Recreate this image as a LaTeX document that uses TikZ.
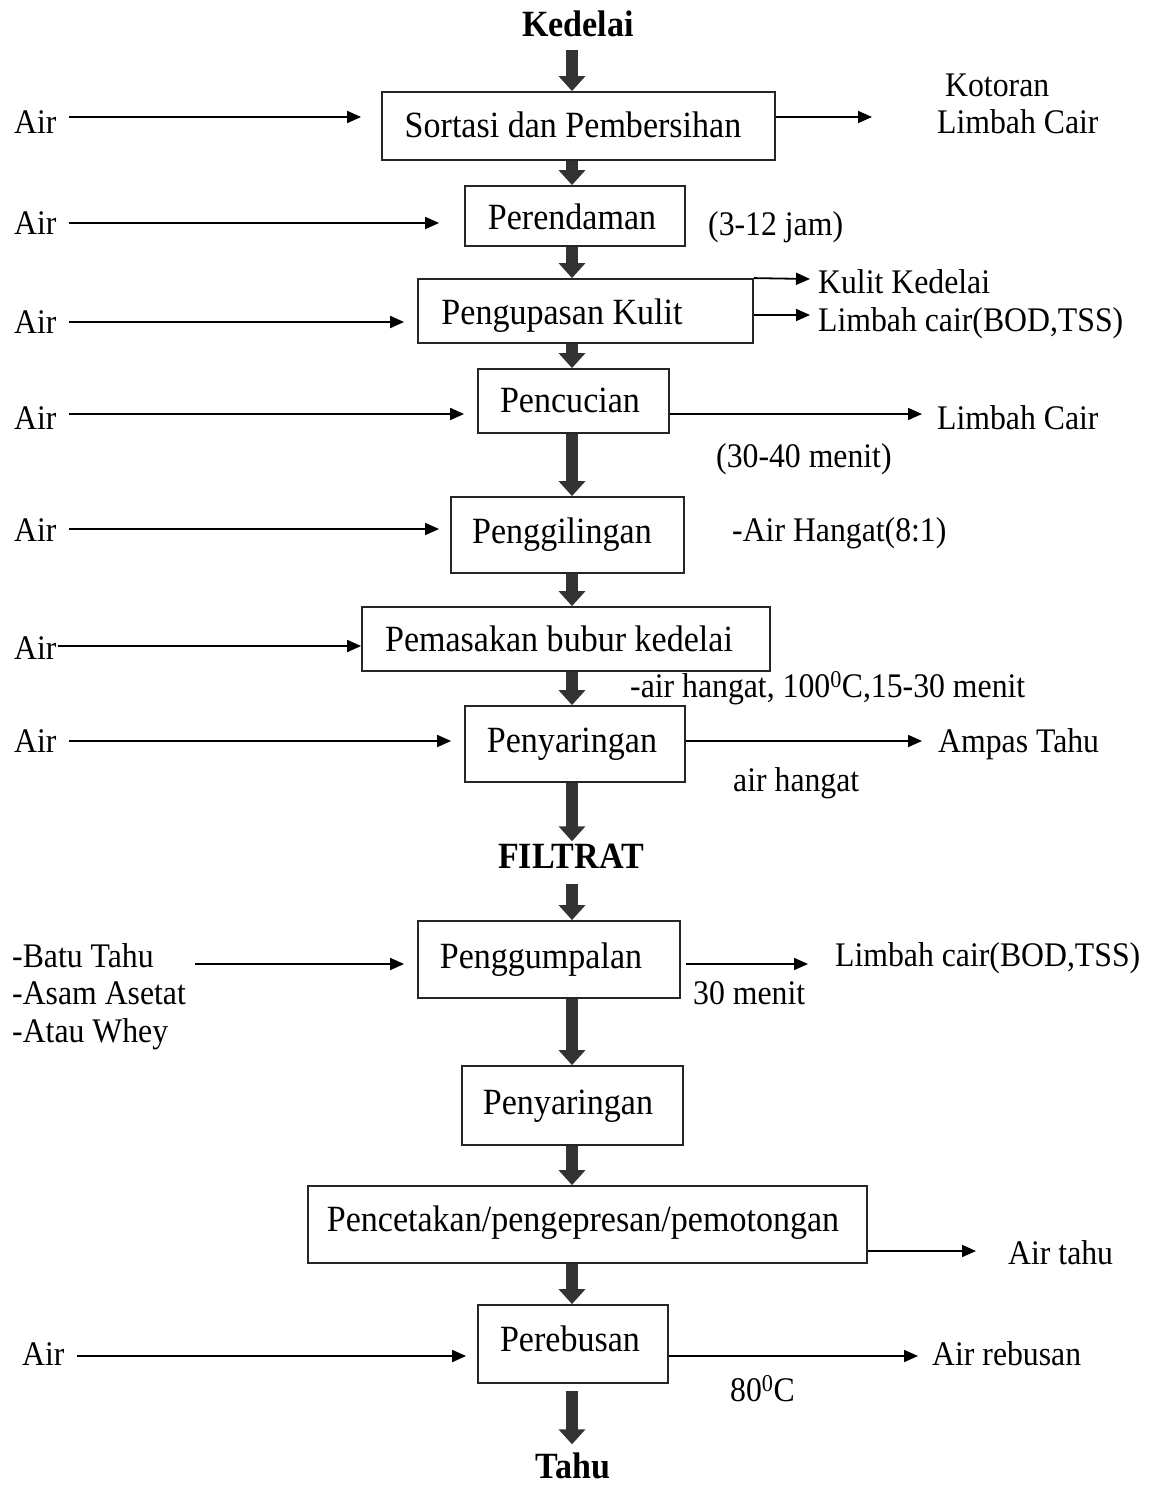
\documentclass[tikz,border=0pt]{standalone}
\usepackage{fontspec}
\setmainfont{Liberation Serif}[FakeStretch=0.92]
\usetikzlibrary{arrows.meta,calc}
\begin{document}
\begin{tikzpicture}[x=1pt,y=-1pt,
 bt/.style={font=\fontsize{37}{40}\selectfont, text height=25pt, text depth=8pt, inner sep=0pt, yshift=-3pt},
 st/.style={font=\fontsize{34.5}{38}\selectfont, text height=24pt, text depth=8pt, inner sep=0pt, anchor=west, yshift=-3pt},
 hd/.style={font=\fontsize{37}{40}\selectfont\bfseries, text height=25pt, text depth=8pt, inner sep=0pt, yshift=-3pt},
 box/.style={draw=black!85, line width=1.8pt, inner sep=0pt},
 thin/.style={draw=black, line width=1.8pt, -{Triangle[length=14pt,width=12pt]}},
 fat/.style={draw=black!80, line width=12pt, -{Triangle[length=15pt,width=26pt]}},
]
\useasboundingbox (0,0) rectangle (1151,1488);
\coordinate (sp) at (572,0);

% boxes
\node[box, minimum width=393pt, minimum height=68pt] (b1) at (578.5,126) {};
\node[box, minimum width=220pt, minimum height=60pt] (b2) at (575,216) {};
\node[box, minimum width=335pt, minimum height=64pt] (b3) at (585.5,311) {};
\node[box, minimum width=191pt, minimum height=64pt] (b4) at (573.5,401) {};
\node[box, minimum width=233pt, minimum height=76pt] (b5) at (567.5,535) {};
\node[box, minimum width=408pt, minimum height=64pt] (b6) at (566,639) {};
\node[box, minimum width=220pt, minimum height=76pt] (b7) at (575,744) {};
\node[box, minimum width=262pt, minimum height=77pt] (b8) at (549,959.5) {};
\node[box, minimum width=221pt, minimum height=79pt] (b9) at (572.5,1105.5) {};
\node[box, minimum width=559pt, minimum height=77pt] (b10) at (587.5,1224.5) {};
\node[box, minimum width=190pt, minimum height=78pt] (b11) at (573,1344) {};

% box texts
\node[bt] (t1) at (573,126) {Sortasi dan Pembersihan};
\node[bt] (t2) at (572,218) {Perendaman};
\node[bt] (t3) at (562,313) {Pengupasan Kulit};
\node[bt] (t4) at (570,401) {Pencucian};
\node[bt] (t5) at (562,532) {Penggilingan};
\node[bt] (t6) at (559,640) {Pemasakan bubur kedelai};
\node[bt] (t7) at (572,741) {Penyaringan};
\node[bt] (t8) at (541,957) {Penggumpalan};
\node[bt] (t9) at (568,1103) {Penyaringan};
\node[bt] (t10) at (583,1220) {Pencetakan/pengepresan/pemotongan};
\node[bt] (t11) at (570,1340) {Perebusan};

% headings
\node[hd] (ked) at (578,25) {Kedelai};
\node[hd] (fil) at (571,857) {FILTRAT};
\node[hd, text depth=0pt] (tahu) at (573,1463) {Tahu};

% fat arrows
\draw[fat, shorten <=5pt] (ked.south -| sp) -- (b1.north -| sp);
\draw[fat] (b1.south -| sp) -- (b2.north -| sp);
\draw[fat] (b2.south -| sp) -- (b3.north -| sp);
\draw[fat] (b3.south -| sp) -- (b4.north -| sp);
\draw[fat] (b4.south -| sp) -- (b5.north -| sp);
\draw[fat] (b5.south -| sp) -- (b6.north -| sp);
\draw[fat] (b6.south -| sp) -- (b7.north -| sp);
\draw[fat, shorten >=2pt] (b7.south -| sp) -- (fil.north -| sp);
\draw[fat, shorten <=7pt] (fil.south -| sp) -- (b8.north -| sp);
\draw[fat] (b8.south -| sp) -- (b9.north -| sp);
\draw[fat] (b9.south -| sp) -- (b10.north -| sp);
\draw[fat] (b10.south -| sp) -- (b11.north -| sp);
\draw[fat, shorten <=7pt, shorten >=9pt] (b11.south -| sp) -- (tahu.north -| sp);

% Air inputs
\node[st] (a1) at (14,122) {Air};
\node[st] (a2) at (14,223) {Air};
\node[st] (a3) at (14,322) {Air};
\node[st] (a4) at (14,418) {Air};
\node[st] (a5) at (14,530) {Air};
\node[st] (a6) at (14,648) {Air};
\node[st] (a7) at (14,741) {Air};
\node[st] (a11) at (22,1354) {Air};
\draw[thin, shorten <=12pt, shorten >=20pt] ([yshift=8pt]a1.east) -- ([yshift=8pt]a1.east -| b1.west);
\draw[thin, shorten <=12pt, shorten >=25pt] ([yshift=3pt]a2.east) -- ([yshift=3pt]a2.east -| b2.west);
\draw[thin, shorten <=12pt, shorten >=13pt] ([yshift=3pt]a3.east) -- ([yshift=3pt]a3.east -| b3.west);
\draw[thin, shorten <=12pt, shorten >=13pt] ([yshift=7pt]a4.east) -- ([yshift=7pt]a4.east -| b4.west);
\draw[thin, shorten <=12pt, shorten >=11pt] ([yshift=4pt]a5.east) -- ([yshift=4pt]a5.east -| b5.west);
\draw[thin, shorten <=1pt] ([yshift=5pt]a6.east) -- ([yshift=5pt]a6.east -| b6.west);
\draw[thin, shorten <=12pt, shorten >=13pt] ([yshift=3pt]a7.east) -- ([yshift=3pt]a7.east -| b7.west);
\draw[thin, shorten <=12pt, shorten >=11pt] ([yshift=1pt]a11.east) -- ([yshift=1pt]a11.east -| b11.west);

% right side
\node[st] (ko) at (945,85) {Kotoran};
\node[st] (lc1) at (937,122) {Limbah Cair};
\coordinate (e1) at (872,117);
\draw[thin] (b1.east |- e1) -- (e1);

\node[st] (jam) at (708,224) {(3-12 jam)};

\node[st] (kk) at (818,282) {Kulit Kedelai};
\node[st] (lb3) at (818,320) {Limbah cair(BOD,TSS)};
\coordinate (e3a) at (810,279);
\coordinate (e3b) at (810,315);
\draw[thin] (b3.north east) -- (e3a);
\draw[thin] (b3.east |- e3b) -- (e3b);

\node[st] (lc4) at (937,418) {Limbah Cair};
\coordinate (e4) at (922,414);
\draw[thin] (b4.east |- e4) -- (e4);
\node[st] (m4) at (716,456) {(30-40 menit)};

\node[st] (ah5) at (732,530) {-Air Hangat(8:1)};
\node[st] (ah6) at (630,686) {-air hangat, 100\textsuperscript{0}C,15-30 menit};

\node[st] (ap) at (938,741) {Ampas Tahu};
\coordinate (e7) at (922,741);
\draw[thin] (b7.east |- e7) -- (e7);
\node[st] (ah7) at (733,780) {air hangat};

\node[font=\fontsize{34.5}{37.5}\selectfont, align=left, anchor=north west, inner sep=0pt] (bt8) at (12,943) {-Batu Tahu\\-Asam Asetat\\-Atau Whey};
\coordinate (s8) at (195,964);
\draw[thin, shorten >=13pt] (s8) -- (s8 -| b8.west);
\node[st] (lb8) at (835,955) {Limbah cair(BOD,TSS)};
\coordinate (e8) at (808,964);
\draw[thin, shorten <=5pt] (b8.east |- e8) -- (e8);
\node[st] (m8) at (693,993) {30 menit};

\node[st] (at10) at (1008,1253) {Air tahu};
\coordinate (e10) at (976,1251);
\draw[thin] (b10.east |- e10) -- (e10);

\node[st] (ar) at (932,1354) {Air rebusan};
\coordinate (e11) at (918,1356);
\draw[thin] (b11.east |- e11) -- (e11);
\node[st] (c11) at (730,1390) {80\textsuperscript{0}C};
\end{tikzpicture}
\end{document}
